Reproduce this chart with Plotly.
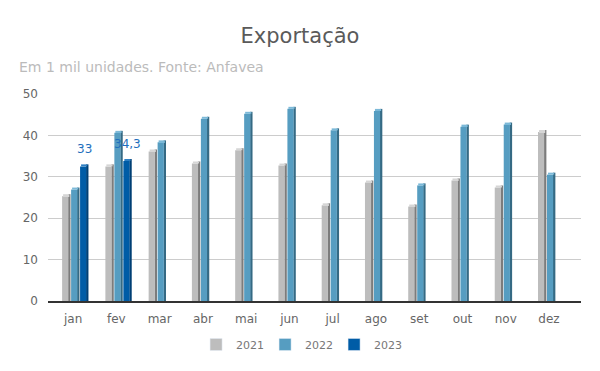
import plotly.graph_objects as go

months = ["jan", "fev", "mar", "abr", "mai", "jun", "jul", "ago", "set", "out", "nov", "dez"]
series_names = ["2021", "2022", "2023"]
values_2021 = [25.8, 33.0, 36.6, 33.7, 36.9, 33.2, 23.6, 29.1, 23.3, 29.6, 27.9, 41.3]
values_2022 = [27.4, 41.1, 38.8, 44.5, 45.7, 46.9, 41.7, 46.4, 28.4, 42.6, 43.1, 31.0]
values_2023 = [33.0, 34.3, None, None, None, None, None, None, None, None, None, None]
label_values_2023 = [33.0, 34.3]
y_ticks = [0, 10, 20, 30, 40, 50]

front_colors = ["#bdbdbd", "#569dc1", "#005ca6"]
side_colors = ["#7c7c7c", "#356a84", "#003f74"]
cap_colors = ["#d6d6d6", "#7cb9d8", "#2f7fc2"]

all_series = [values_2021, values_2022, values_2023]

UNIT = 43.35  # px per category
PX_Y = 4.15   # px per data unit
front_w = 6.2 / UNIT
side_w = 2.4 / UNIT
step = 9.0 / UNIT
start0 = -11.0 / UNIT
cap_h = 2.0 / PX_Y

fig = go.Figure()
for i, (name, vals) in enumerate(zip(series_names, all_series)):
    off = start0 + i * step
    body = [None if v is None else v - cap_h for v in vals]
    caps = [None if v is None else cap_h for v in vals]
    cap_base = [None if v is None else v - cap_h for v in vals]
    # side (darker)
    fig.add_trace(go.Bar(x=months, y=vals, offset=off + front_w - 0.2 / UNIT, width=side_w,
                         marker=dict(color=side_colors[i], line=dict(width=0)),
                         showlegend=False, hoverinfo="skip"))
    # front face
    fig.add_trace(go.Bar(x=months, y=body, offset=off, width=front_w, name=name,
                         marker=dict(color=front_colors[i], line=dict(width=0)),
                         legendgroup=name, showlegend=False))
    # top cap
    fig.add_trace(go.Bar(x=months, y=caps, base=cap_base, offset=off + 1.0 / UNIT, width=front_w,
                         marker=dict(color=cap_colors[i], line=dict(width=0)),
                         showlegend=False, hoverinfo="skip"))

# legend entries
for i, name in enumerate(series_names):
    fig.add_trace(go.Bar(x=[months[0]], y=[None], name=name,
                         marker=dict(color=front_colors[i]), showlegend=True))

# data labels for 2023
for m, v in zip(months, label_values_2023):
    fig.add_annotation(x=m, y=v, text=f"{v:g}".replace(".", ","), showarrow=False,
                       xref="x", yref="y", xshift=11, yshift=15,
                       font=dict(family="DejaVu Sans", size=12, color="#1f6fbd"))

fig.update_layout(
    width=600, height=371,
    barmode="overlay",
    plot_bgcolor="white", paper_bgcolor="white",
    margin=dict(l=48, r=19, t=94, b=70, autoexpand=False),
    font=dict(family="DejaVu Sans", color="#666666", size=12),
    title=dict(text="Exportação", x=0.5, xanchor="center", y=0.905, yanchor="middle",
               font=dict(family="DejaVu Sans", size=21, color="#5a5a5a")),
    legend=dict(orientation="h", x=0.472, xanchor="center", y=-0.14, yanchor="top",
                font=dict(size=11, color="#777777"), itemwidth=30, traceorder="normal",
                entrywidth=24, entrywidthmode="pixels"),
    showlegend=True,
)
fig.add_annotation(text="Em 1 mil unidades. Fonte: Anfavea", xref="paper", yref="paper",
                   x=-0.058, xanchor="left", y=1.13, yanchor="middle", showarrow=False,
                   font=dict(family="DejaVu Sans", size=14, color="#bbbbbb"))

fig.update_xaxes(type="category", categoryorder="array", categoryarray=months,
                 range=[-0.58, 11.74], showgrid=False, showline=True, linecolor="#333333",
                 linewidth=1.5, ticks="", ticklabelstandoff=6, automargin=False,
                 tickfont=dict(size=12, color="#666666"))
fig.update_yaxes(range=[0, 50], tickvals=y_ticks, showgrid=True, gridcolor="#cccccc",
                 gridwidth=1, zeroline=False, showline=False, ticks="", automargin=False,
                 ticklabelstandoff=9, tickfont=dict(size=12, color="#666666"))

fig.write_html("out.html", post_script="document.body.style.margin='0';",
               config={"displayModeBar": False})
